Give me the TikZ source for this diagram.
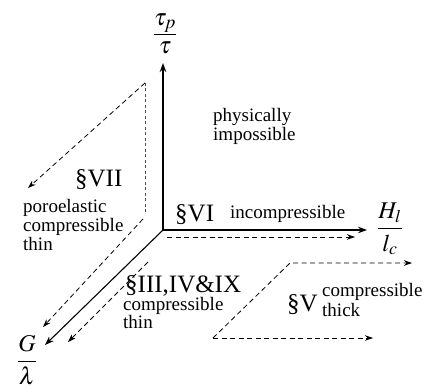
\documentclass[tikz,border=0pt]{standalone}
\usepackage{mathptmx}
\usepackage{fontspec}
\setmainfont{Liberation Serif}
\usetikzlibrary{arrows.meta}
\begin{document}
\begin{tikzpicture}[x=1pt,y=-1pt,
  axis/.style={line width=1.1pt,-{Stealth[length=9pt,width=6.5pt]}},
  dline/.style={line width=0.8pt,dash pattern=on 5pt off 3.5pt,-{Stealth[length=8pt,width=5.5pt]}},
  vline/.style={line width=0.6pt,dash pattern=on 3pt off 2.5pt,black!70},
  big/.style={font=\fontsize{25}{27}\selectfont,inner sep=0pt,anchor=base west},
  small/.style={font=\fontsize{19}{19}\selectfont,inner sep=0pt,anchor=base west,align=left},
  mlabel/.style={font=\fontsize{24}{28}\selectfont,inner sep=0pt}]
\useasboundingbox (0,0) rectangle (424,387);
% axes
\coordinate (O) at (163,230);
\coordinate (ytip) at (163,63);
\coordinate (xtip) at (367,230);
\coordinate (ztip) at (45,345);
\draw[axis] (O) -- (ytip);
\draw[axis] (O) -- (xtip);
\draw[axis] (O) -- (ztip);
\node[mlabel,font=\fontsize{32}{36}\selectfont] (tau) at (165,34) {$\textstyle\frac{\tau_p}{\tau}$};
\node[mlabel] (Hl) at (390,229) {$\displaystyle\frac{H_l}{l_c}$};
\node[mlabel] (G) at (27,360) {$\displaystyle\frac{G}{\lambda}$};
% dashed paths
\coordinate (a1) at (145,83);
\coordinate (a2) at (28,188);
\coordinate (a3) at (145,215);
\draw[dline] (a1) -- (a2);
\draw[vline] (a1) -- (a3);
\coordinate (b1) at (143,219);
\coordinate (b2) at (43,327);
\draw[dline] (b1) -- (b2);
\coordinate (c1) at (167,237);
\coordinate (c2) at (355,237);
\draw[dline] (c1) -- (c2);
\coordinate (d1) at (148,262);
\coordinate (d2) at (68,342);
\draw[dline] (d1) -- (d2);
\coordinate (e1) at (213,338);
\coordinate (e2) at (373,338);
\coordinate (e3) at (290,263);
\coordinate (e4) at (412,263);
\draw[dline] (e1) -- (e2);
\draw[dline] (e1) -- (e3) -- (e4);
% texts
\node[small] (phys) at (213,141) {physically\\impossible};
\node[big] (s7) at (75,187) {\S VII};
\node[small] (poro) at (23,251) {poroelastic\\compressible\\thin};
\node[big] (s6) at (175,222) {\S VI};
\node[small] (incomp) at (230,219) {incompressible};
\node[big] (s3) at (125,293) {\S III,IV\&IX};
\node[small,font=\fontsize{19}{17}\selectfont] (ct) at (123,329) {compressible\\thin};
\node[big] (s5) at (287,312) {\S V};
\node[small,font=\fontsize{19}{20}\selectfont] (cth) at (322,317) {compressible\\thick};
\end{tikzpicture}
\end{document}
